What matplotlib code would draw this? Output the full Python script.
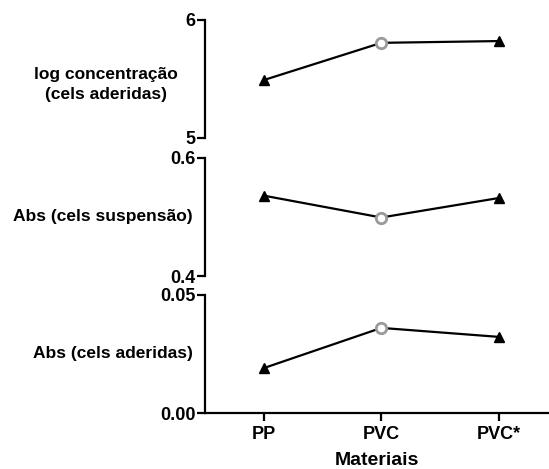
import matplotlib
matplotlib.use("Agg")
import matplotlib.pyplot as plt

plt.rcParams['font.family'] = ['Liberation Sans', 'DejaVu Sans']
plt.rcParams['font.weight'] = 'bold'

materiais = ["PP", "PVC", "PVC*"]
log_aderidas = [5.49, 5.805, 5.82]
abs_suspensao = [0.536, 0.499, 0.532]
abs_aderidas = [0.019, 0.036, 0.0322]

# PVC sem tratamento aparece como círculo cinza aberto
marcadores = ["^", "o", "^"]

paineis = [
    (log_aderidas, "log concentração\n(cels aderidas)", (5, 6), [5, 6], ["5", "6"]),
    (abs_suspensao, "Abs (cels suspensão)", (0.4, 0.6), [0.4, 0.6], ["0.4", "0.6"]),
    (abs_aderidas, "Abs (cels aderidas)", (0.0, 0.05), [0.0, 0.05], ["0.00", "0.05"]),
]

# posições dos eixos (fração da figura)
bottoms = [0.7058, 0.4115, 0.1194]
height = 0.252
left = 0.3734
label_x = [-0.288, -0.297, -0.267]
label_y = [0.45, 0.5, 0.5]

fig = plt.figure(figsize=(5.49, 4.69), dpi=100)
x = list(range(len(materiais)))

for i, (vals, rotulo, lim, ticks, ticklabels) in enumerate(paineis):
    ax = fig.add_axes([left, bottoms[i], 1 - left, height])
    ax.plot(x, vals, color="black", lw=1.6, zorder=2)
    for xi, v, m in zip(x, vals, marcadores):
        if m == "o":
            ax.plot(xi, v, marker="o", ms=7.5, mfc="white", mec="#9a9a9a", mew=2, zorder=3)
        else:
            ax.plot(xi, v, marker="^", ms=7, color="black", zorder=3)
    ax.set_xlim(-0.5, 2.426)
    ax.set_ylim(*lim)
    ax.set_yticks(ticks)
    ax.set_yticklabels(ticklabels, fontsize=13, fontweight="bold")
    for s in ["top", "right"]:
        ax.spines[s].set_visible(False)
    ax.spines["left"].set_linewidth(1.6)
    ax.tick_params(axis="y", length=6, width=1.6, pad=1)
    ax.set_ylabel(rotulo, rotation=0, fontsize=12.5, fontweight="bold",
                  ha="center", va="center", multialignment="center",
                  linespacing=1.45)
    ax.yaxis.set_label_coords(label_x[i], label_y[i])
    if i < 2:
        ax.spines["bottom"].set_visible(False)
        ax.set_xticks([])
    else:
        ax.spines["bottom"].set_linewidth(1.6)
        ax.set_xticks(x)
        ax.set_xticklabels(materiais, fontsize=13, fontweight="bold")
        ax.tick_params(axis="x", length=6, width=1.6, pad=3)
        ax.set_xlabel("Materiais", fontsize=14, fontweight="bold", labelpad=7)
    ax.patch.set_alpha(0)

fig.savefig("out.png", dpi=100)
